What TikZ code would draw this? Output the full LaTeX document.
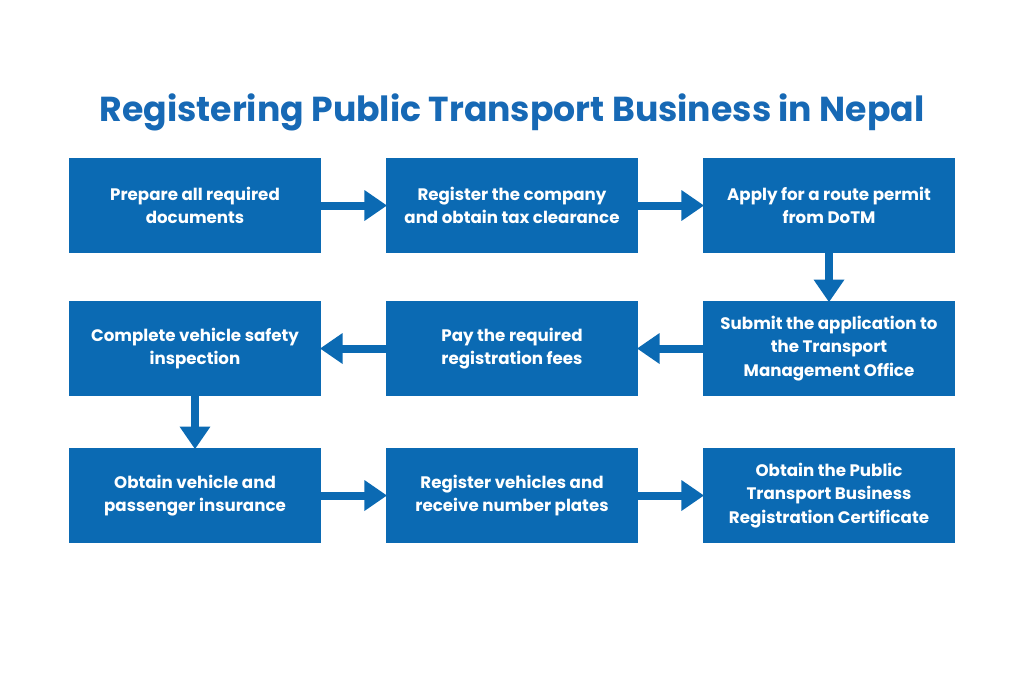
\documentclass[tikz,border=0pt]{standalone}
\usepackage{fontspec}
\setmainfont{Poppins}[BoldFont={* Bold},UprightFont={* Regular}]
\usetikzlibrary{arrows.meta}
\definecolor{boxblue}{HTML}{0B6AB3}
\definecolor{titleblue}{HTML}{1769B5}
\begin{document}
\begin{tikzpicture}[x=0.75pt,y=-0.75pt,
  box/.style={fill=boxblue,minimum width=189pt,minimum height=71pt,inner sep=2pt,
    text=white,align=center,font=\fontsize{12.5pt}{17.5pt}\selectfont\bfseries},
  arr/.style={draw=boxblue,line width=6pt,-{Triangle[length=17pt,width=22pt]},shorten >=-1pt}]
\useasboundingbox (0,0) rectangle (1024,683);
\node[text=titleblue,font=\fontsize{26pt}{30pt}\selectfont\bfseries] (t) at (512,112) {Registering Public Transport Business in Nepal};
\node[box] (a) at (195,205.5) {Prepare all required\\documents};
\node[box] (b) at (512,205.5) {Register the company\\and obtain tax clearance};
\node[box] (c) at (829,205.5) {Apply for a route permit\\from DoTM};
\node[box] (d) at (829,348.5) {Submit the application to\\the Transport\\Management Office};
\node[box] (e) at (512,348.5) {Pay the required\\registration fees};
\node[box] (f) at (195,348.5) {Complete vehicle safety\\inspection};
\node[box] (g) at (195,495.5) {Obtain vehicle and\\passenger insurance};
\node[box] (h) at (512,495.5) {Register vehicles and\\receive number plates};
\node[box] (i) at (829,495.5) {Obtain the Public\\Transport Business\\Registration Certificate};
\draw[arr] (a) -- (b);
\draw[arr] (b) -- (c);
\draw[arr] (c) -- (d);
\draw[arr] (d) -- (e);
\draw[arr] (e) -- (f);
\draw[arr] (f) -- (g);
\draw[arr] (g) -- (h);
\draw[arr] (h) -- (i);
\end{tikzpicture}
\end{document}
